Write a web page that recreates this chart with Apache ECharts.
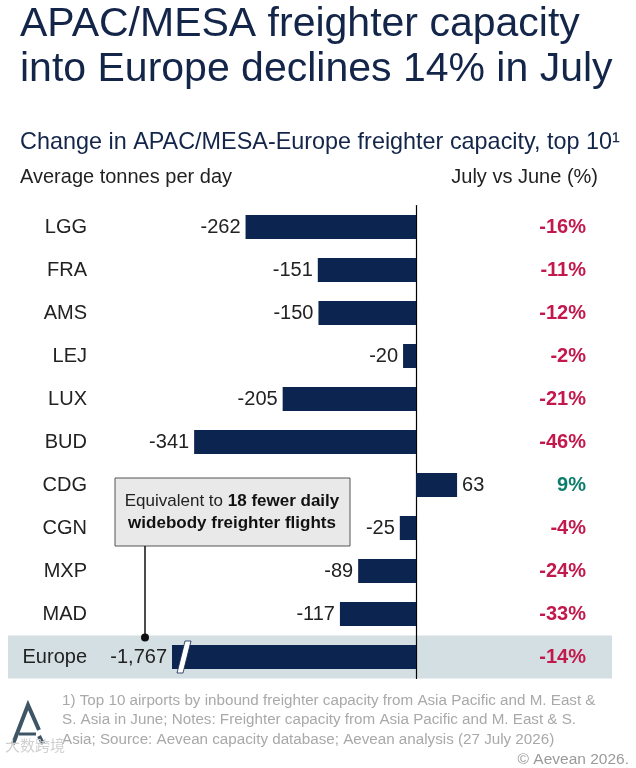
<!DOCTYPE html>
<html>
<head>
<meta charset="utf-8">
<title>APAC/MESA freighter capacity into Europe</title>
<script src="https://cdn.jsdelivr.net/npm/echarts@6/dist/echarts.min.js"></script>
<style>
  html, body { margin: 0; padding: 0; background: #fff; }
  #main { width: 636px; height: 768px; }
</style>
</head>
<body>
<div id="main"></div>
<script>
// airports, top to bottom
var airports = ['LGG', 'FRA', 'AMS', 'LEJ', 'LUX', 'BUD', 'CDG', 'CGN', 'MXP', 'MAD', 'Europe'];
// change in average tonnes per day, July vs June
var tonnes = [-262, -151, -150, -20, -205, -341, 63, -25, -89, -117, -1767];
// change in percent, July vs June
var pctChange = [-16, -11, -12, -2, -21, -46, 9, -4, -24, -33, -14];

var X_MIN = -375;   // Europe bar is cut here (axis break)
var X_MAX = 301;

var NAVY = '#0c2550';
var RED = '#c2184b';
var GREEN = '#0e7c6b';
var FONT = 'Liberation Sans, Arial, sans-serif';

var pctLabels = pctChange.map(function (p) { return p + '%'; });

var barData = tonnes.map(function (v) {
    return {
        value: Math.max(v, X_MIN),
        label: { position: v < 0 ? 'left' : 'right' }
    };
});

var myChart = echarts.init(document.getElementById('main'), null, { renderer: 'canvas' });

var option = {
    animation: false,
    backgroundColor: '#fff',
    title: [
        {
            text: 'APAC/MESA freighter capacity\ninto Europe declines 14% in July',
            left: 20, top: 2, padding: 0,
            textStyle: { fontFamily: FONT, fontSize: 41, fontWeight: 'normal', color: '#14254a', lineHeight: 45 }
        },
        {
            text: 'Change in APAC/MESA-Europe freighter capacity, top 10\u00b9',
            left: 20, top: 131, padding: 0,
            textStyle: { fontFamily: FONT, fontSize: 23.4, fontWeight: 'normal', color: '#14254a' }
        },
        {
            text: 'Average tonnes per day',
            left: 20, top: 167, padding: 0,
            textStyle: { fontFamily: FONT, fontSize: 20, fontWeight: 'normal', color: '#222' }
        },
        {
            text: 'July vs June (%)',
            right: 38, top: 167, padding: 0,
            textStyle: { fontFamily: FONT, fontSize: 20, fontWeight: 'normal', color: '#222' }
        }
    ],
    grid: { left: 172, right: 24, top: 205.5, height: 473, containLabel: false },
    xAxis: {
        type: 'value',
        min: X_MIN,
        max: X_MAX,
        show: false
    },
    yAxis: [
        {
            // zero line
            type: 'category',
            data: airports,
            inverse: true,
            axisLine: { show: true, onZero: true, lineStyle: { color: '#000', width: 1.2 } },
            axisTick: { show: false },
            axisLabel: { show: false },
            splitLine: { show: false }
        },
        {
            // airport names
            type: 'category',
            data: airports,
            inverse: true,
            position: 'left',
            offset: 0,
            axisLine: { show: false },
            axisTick: { show: false },
            axisLabel: { margin: 85, fontFamily: FONT, fontSize: 20, color: '#222' }
        },
        {
            // percent change
            type: 'category',
            data: pctLabels,
            inverse: true,
            position: 'right',
            offset: 0,
            axisLine: { show: false },
            axisTick: { show: false },
            axisLabel: {
                margin: -26,
                align: 'right',
                fontFamily: FONT,
                fontSize: 20,
                fontWeight: 'bold',
                color: function (value) {
                    return String(value).charAt(0) === '-' ? RED : GREEN;
                }
            }
        }
    ],
    series: [
        {
            type: 'bar',
            yAxisIndex: 0,
            data: barData,
            barWidth: 24,
            itemStyle: { color: NAVY },
            z: 3,
            label: {
                show: true,
                distance: 5,
                fontFamily: FONT,
                fontSize: 20,
                color: '#222',
                formatter: function (p) {
                    return tonnes[p.dataIndex].toLocaleString('en-US');
                }
            }
        }
    ]
};

myChart.setOption(option);

// decorations placed from the axes
var eu = myChart.convertToPixel({ xAxisIndex: 0, yAxisIndex: 0 }, [X_MIN, 'Europe']);
var x0 = eu[0], yc = eu[1];
var band = 43;

myChart.setOption({
    graphic: [
        // Europe row background
        {
            type: 'rect', z: -10,
            shape: { x: 8, y: yc - band / 2, width: 604, height: band },
            style: { fill: '#d4dfe3' }
        },
        // axis break on Europe bar
        {
            type: 'polygon', z: 10,
            shape: { points: [[x0 + 13, yc - 16], [x0 + 19, yc - 16], [x0 + 11, yc + 16], [x0 + 5, yc + 16]] },
            style: { fill: '#fff', stroke: NAVY, lineWidth: 0.8 }
        },
        // callout box
        {
            type: 'rect', z: 10,
            shape: { x: 115, y: 478, width: 235, height: 68 },
            style: { fill: '#e9e9e9', stroke: '#555', lineWidth: 1 }
        },
        {
            type: 'text', z: 11,
            x: 232, y: 512,
            style: {
                text: 'Equivalent to {b|18 fewer daily}\n{b|widebody freighter flights}',
                align: 'center', verticalAlign: 'middle',
                font: '17px ' + FONT,
                fill: '#222',
                lineHeight: 22,
                rich: { b: { fontWeight: 'bold', fontSize: 17, fontFamily: FONT, fill: '#111', lineHeight: 22 } }
            }
        },
        {
            type: 'line', z: 10,
            shape: { x1: 145, y1: 546, x2: 145, y2: yc - band / 2 + 2 },
            style: { stroke: '#111', lineWidth: 1.5 }
        },
        {
            type: 'circle', z: 10,
            shape: { cx: 145, cy: yc - band / 2 + 2, r: 4 },
            style: { fill: '#111' }
        },
        // logo
        {
            type: 'polyline', z: 10,
            shape: { points: [[13, 744], [28, 705], [39, 730]] },
            style: { stroke: '#3e5566', lineWidth: 4, fill: null }
        },
        {
            type: 'line', z: 10,
            shape: { x1: 19, y1: 734, x2: 36, y2: 734 },
            style: { stroke: '#3e5566', lineWidth: 3 }
        },
        {
            type: 'line', z: 10,
            shape: { x1: 39, y1: 736, x2: 43, y2: 744 },
            style: { stroke: '#3e5566', lineWidth: 4 }
        },
        // footnote
        {
            type: 'text', z: 10,
            x: 62, y: 691,
            style: {
                text: '1) Top 10 airports by inbound freighter capacity from Asia Pacific and M. East &\nS. Asia in June; Notes: Freighter capacity from Asia Pacific and M. East & S.\nAsia; Source: Aevean capacity database; Aevean analysis (27 July 2026)',
                font: '15.2px ' + FONT,
                fill: '#a9a9a9',
                lineHeight: 19.5
            }
        },
        {
            type: 'text', z: 10,
            x: 629, y: 752,
            style: { text: '\u00a9 Aevean 2026.', align: 'right', font: '15.5px ' + FONT, fill: '#9a9a9a' }
        },
        {
            type: 'text', z: 12,
            x: 5, y: 738,
            style: { text: '\u5927\u6570\u8de8\u5883', font: '15px Noto Sans CJK SC', fill: '#d0d0d0' }
        }
    ]
});
</script>
</body>
</html>
